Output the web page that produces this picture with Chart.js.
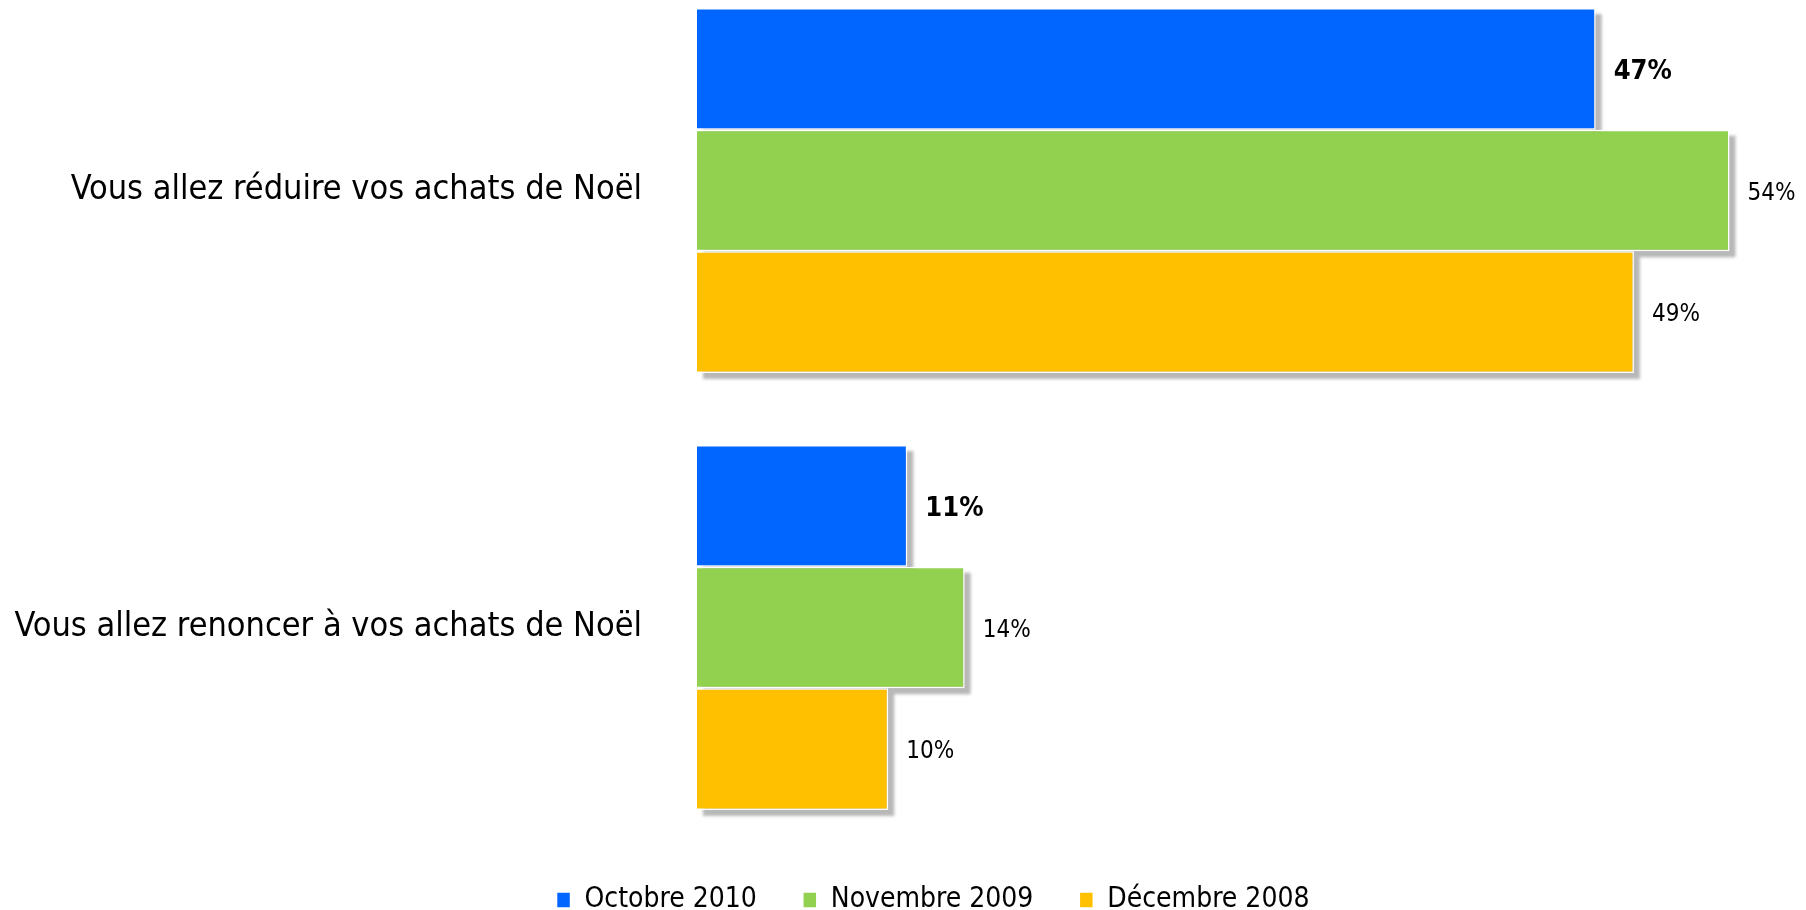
<!DOCTYPE html>
<html>
<head>
<meta charset="utf-8">
<script src="https://cdn.jsdelivr.net/npm/chart.js@4/dist/chart.umd.min.js"></script>
<style>
  html, body { margin: 0; padding: 0; background: #fff; overflow: hidden; }
  #wrap { width: 1806px; height: 910px; overflow: hidden; position: relative; }
  /* le graphique commence un peu au-dessus du bord, comme l'original */
  #inner { position: absolute; left: 0; top: -28px; width: 1806px; height: 958px; }
</style>
</head>
<body>
<div id="wrap"><div id="inner"><canvas id="chart"></canvas></div></div>
<script>
// données
const categories = ['Vous allez réduire vos achats de Noël', 'Vous allez renoncer à vos achats de Noël'];
const seriesNames = ['Octobre 2010', 'Novembre 2009', 'Décembre 2008'];
const octobre2010 = [47, 11];
const novembre2009 = [54, 14];
const decembre2008 = [49, 10];
const colors = ['#0066FF', '#92D050', '#FFC000'];

const FONT = "'DejaVu Sans Condensed', 'DejaVu Sans', sans-serif";

// ombre grise derrière les barres
const barShadow = {
    id: 'barShadow',
    beforeDatasetsDraw(chart) {
        const ctx = chart.ctx;
        ctx.save();
        ctx.beginPath();
        chart.data.datasets.forEach((ds, i) => {
            chart.getDatasetMeta(i).data.forEach(bar => {
                const left = Math.min(bar.base, bar.x);
                const w = Math.abs(bar.x - bar.base);
                ctx.rect(left + 6, bar.y - bar.height / 2 + 6, w, bar.height);
            });
        });
        ctx.filter = 'blur(1.5px)';
        ctx.fillStyle = 'rgba(0,0,0,0.28)';
        ctx.fill();
        ctx.restore();
    }
};

// étiquettes de valeur
const valueLabels = {
    id: 'valueLabels',
    afterDatasetsDraw(chart) {
        const ctx = chart.ctx;
        ctx.save();
        ctx.textBaseline = 'middle';
        ctx.textAlign = 'left';
        ctx.fillStyle = '#000';
        chart.data.datasets.forEach((ds, i) => {
            ctx.font = (i === 0 ? 'bold 27px ' : '24px ') + FONT;
            chart.getDatasetMeta(i).data.forEach((bar, j) => {
                ctx.fillText(ds.data[j] + '%', bar.x + 18, bar.y + 3);
            });
        });
        ctx.restore();
    }
};

// la légende est un peu décalée vers la droite et vers le haut
const legendShift = {
    id: 'legendShift',
    afterLayout(chart) {
        const lg = chart.legend;
        lg.left += 60;
        lg.top -= 6;
        lg.bottom -= 6;
    }
};

const data = {
    labels: categories,
    datasets: [octobre2010, novembre2009, decembre2008].map((vals, i) => ({
        label: seriesNames[i],
        data: vals,
        backgroundColor: colors[i],
        borderColor: '#fff',
        borderWidth: 1.5,
        categoryPercentage: 0.835,
        barPercentage: 1
    }))
};

new Chart(document.getElementById('chart'), {
    type: 'bar',
    data: data,
    plugins: [barShadow, valueLabels, legendShift],
    options: {
        indexAxis: 'y',
        responsive: true,
        maintainAspectRatio: false,
        animation: false,
        layout: { padding: 0 },
        scales: {
            x: { display: false, min: 0, max: 58 },
            y: {
                grid: { display: false, drawTicks: false },
                border: { display: false },
                afterFit: s => {
                    s.width = 697;
                    s.paddingTop = 0;
                    s.paddingBottom = 0;
                },
                ticks: {
                    padding: 55,
                    color: '#000',
                    font: { family: FONT, size: 34 }
                }
            }
        },
        plugins: {
            tooltip: { enabled: false },
            legend: {
                position: 'bottom',
                labels: {
                    boxWidth: 14,
                    boxHeight: 16,
                    padding: 46,
                    color: '#000',
                    font: { family: FONT, size: 28 }
                }
            }
        }
    }
});
</script>
</body>
</html>
